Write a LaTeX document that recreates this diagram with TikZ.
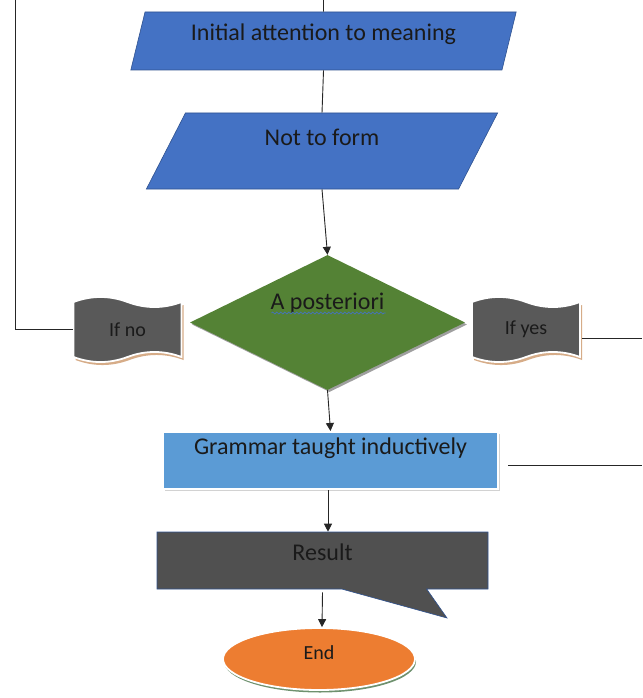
\documentclass[tikz,border=0pt]{standalone}
\usepackage{fontspec}
\setmainfont{Carlito}
\usetikzlibrary{shapes.geometric,shapes.callouts,shadows,arrows.meta,decorations.pathmorphing}

\definecolor{pblue}{HTML}{4472C4}
\definecolor{pedge}{HTML}{2F528F}
\definecolor{dgreen}{HTML}{548235}
\definecolor{gblue}{HTML}{5B9BD5}
\definecolor{tapegray}{HTML}{595959}
\definecolor{calloutgray}{HTML}{505050}
\definecolor{endorange}{HTML}{ED7D31}
\definecolor{inkc}{HTML}{1A1A1A}
\definecolor{tapeshadow}{HTML}{D6AC88}

\pgfdeclarelayer{background}
\pgfsetlayers{background,main}

% punched-tape outline centred on the origin (y grows downwards here)
\newcommand{\tapepath}{%
  (-54,-27.5) .. controls (-36,-34.2) and (-18,-34.2) .. (0,-27.5)
  .. controls (18,-20.8) and (36,-20.8) .. (54,-27.5)
  -- (54,27.5) .. controls (36,20.8) and (18,20.8) .. (0,27.5)
  .. controls (-18,34.2) and (-36,34.2) .. (-54,27.5) -- cycle}
\newcommand{\drawtape}[1]{%
  \begin{pgfonlayer}{background}
    \begin{scope}[shift={(#1.center)}]
      \fill[tapeshadow] [xshift=2pt,yshift=-3pt] \tapepath;
      \draw[tapeline] \tapepath;
    \end{scope}
  \end{pgfonlayer}}

\begin{document}
\begin{tikzpicture}[x=1pt,y=-1pt,
  font=\fontsize{24}{28}\selectfont, text=inkc,
  para/.style={trapezium, trapezium stretches=true, fill=pblue, draw=pedge,
    line width=0.6pt, inner sep=0pt, text height=17pt},
  decision/.style={diamond, aspect=2.04, fill=dgreen, inner sep=0pt, text height=17pt,
    drop shadow={shadow xshift=2pt, shadow yshift=-2pt, fill=gray!75, opacity=1}},
  tapetext/.style={rectangle, inner sep=0pt, minimum width=108pt, minimum height=55pt,
    font=\fontsize{20}{24}\selectfont},
  tapeline/.style={fill=tapegray, draw=white, line width=1.8pt},
  stepbox/.style={rectangle, fill=gblue, draw=white, line width=2pt, inner sep=0pt,
    text height=17pt,
    drop shadow={shadow xshift=2pt, shadow yshift=-2pt, fill=gray!35, opacity=1}},
  resultbox/.style={rectangle callout, fill=calloutgray, draw=pedge, line width=0.6pt,
    inner sep=0pt, text height=17pt, text depth=17pt},
  endbox/.style={ellipse, fill=endorange, draw=white, line width=1.8pt,
    font=\fontsize{20}{24}\selectfont, inner sep=0pt, text height=14pt, text depth=14pt,
    drop shadow={shadow xshift=1pt, shadow yshift=-2.5pt, fill=gray!60!green!35!gray, opacity=1}},
  conn/.style={draw=black!85, line width=0.9pt},
  arr/.style={conn, -{Triangle[width=8pt,length=8pt]}}
]
\useasboundingbox (0,0) rectangle (642,698);

% flow boxes
\node[para, trapezium left angle=72.76, trapezium right angle=107.24,
  minimum width=387pt, minimum height=58pt, text depth=17pt] (p1) at (323.5,41)
  {Initial attention to meaning};
\node[para, trapezium left angle=70.4, trapezium right angle=109.6,
  minimum width=352pt, minimum height=76pt, text depth=29pt] (p2) at (322,151)
  {Not to form};
\node[decision, minimum width=275pt, minimum height=135pt, text depth=43pt]
  (d) at (327.5,322.5) {A posteriori};
\node[tapetext] (ifno) at (127.5,329.5) {If no};
\node[tapetext] (ifyes) at (526,329.5) {If yes};
\drawtape{ifno}
\drawtape{ifyes}
\node[stepbox, minimum width=335pt, minimum height=57pt, text depth=29pt]
  (g) at (330.5,460.5) {Grammar taught inductively};
\node[resultbox, minimum width=331pt, minimum height=57pt,
  callout absolute pointer={(447,618)}, callout pointer width=85pt]
  (r) at (322.5,560.5) {Result};
\node[endbox, minimum width=192pt, minimum height=62pt] (e) at (319,659) {End};

% wavy spelling mark under the decision text
\draw[draw=pblue, line width=0.7pt, decorate,
  decoration={snake, amplitude=1pt, segment length=4pt}]
  ([xshift=-56pt,yshift=9.5pt]d.center) -- ([xshift=58pt,yshift=9.5pt]d.center);

% free ends of the side lines
\coordinate (top) at (323.5,0);
\coordinate (ltop) at (15,0);
\coordinate (yesend) at (642,338);
\coordinate (gend) at (642,465);

% connectors
\draw[conn] (top) -- (p1.north);
\draw[conn] (p1.south) -- (p2.north);
\draw[arr] (p2.south) -- (d.north);
\draw[arr] (d.south) -- (g.north);
\draw[arr] ([xshift=-2.5pt]g.south) -- ([xshift=5.5pt]r.north);
\draw[arr] ([yshift=-3pt]r.south) -- ([xshift=3pt]e.north);
\draw[conn] (ltop) |- (ifno.west);
\draw[conn] (ifyes.east |- yesend) ++(2,0) -- (yesend);
\draw[conn] (g.east |- gend) ++(9,0) -- (gend);
\end{tikzpicture}
\end{document}
